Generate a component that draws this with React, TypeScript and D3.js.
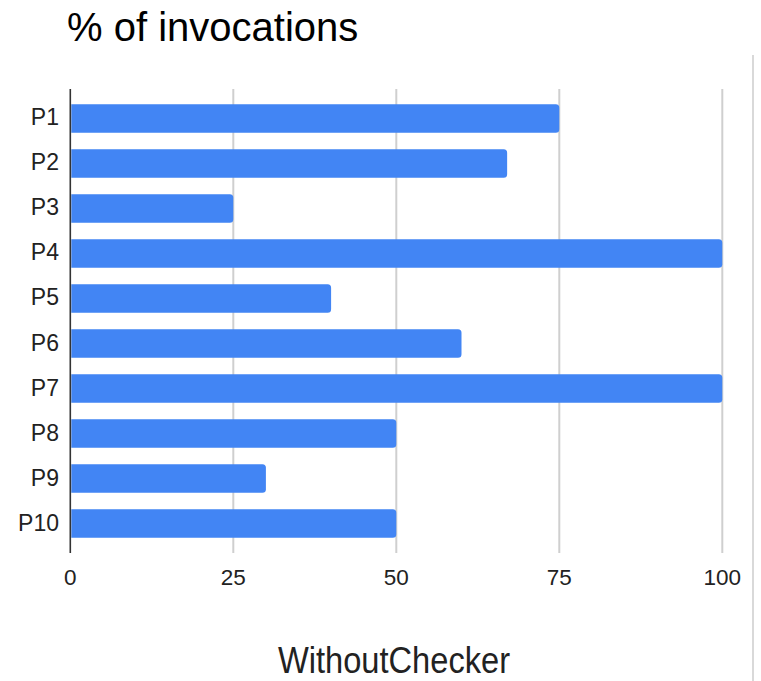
import React from "react";
import * as d3 from "d3";

const categories = ["P1", "P2", "P3", "P4", "P5", "P6", "P7", "P8", "P9", "P10"];
const values = [75, 67, 25, 100, 40, 60, 100, 50, 30, 50];
const xTicks = [0, 25, 50, 75, 100];
const chartTitle = "% of invocations";
const axisTitle = "WithoutChecker";

const W = 761;
const H = 681;
const plot = { left: 70.3, right: 722.3, top: 89, bottom: 553 };
const sans = "'Liberation Sans', Arial, sans-serif";

function barPath(x0: number, x1: number, y: number, h: number, r: number) {
  const rr = Math.min(r, (x1 - x0) / 2, h / 2);
  const p = d3.path();
  p.moveTo(x0, y);
  p.lineTo(x1 - rr, y);
  p.arcTo(x1, y, x1, y + rr, rr);
  p.lineTo(x1, y + h - rr);
  p.arcTo(x1, y + h, x1 - rr, y + h, rr);
  p.lineTo(x0, y + h);
  p.closePath();
  return p.toString();
}

export default function App() {
  const x = d3.scaleLinear().domain([0, 100]).range([plot.left, plot.right]);
  const y = d3
    .scaleBand<string>()
    .domain(categories)
    .range([plot.top, plot.bottom])
    .paddingInner(0.367)
    .paddingOuter(0.338);

  return (
    <svg
      width={W}
      height={H}
      style={{ position: "absolute", left: 0, top: 0, background: "#fff" }}
    >
      <text x={67} y={41} fontFamily={sans} fontSize={40} fill="#000">
        {chartTitle}
      </text>

      {/* right border */}
      <line x1={753} x2={753} y1={55} y2={H} stroke="#cccccc" strokeWidth={1.5} />

      {/* vertical gridlines */}
      {xTicks
        .filter((t) => t !== 0)
        .map((t) => (
          <line
            key={t}
            x1={x(t)}
            x2={x(t)}
            y1={plot.top}
            y2={plot.bottom}
            stroke="#cfcfcf"
            strokeWidth={2}
          />
        ))}

      {/* bars */}
      {categories.map((c, i) => (
        <path
          key={c}
          d={barPath(x(0) + 1, x(values[i]), y(c)!, y.bandwidth(), 3.5)}
          fill="#4285f4"
        />
      ))}

      {/* baseline axis */}
      <line
        x1={x(0)}
        x2={x(0)}
        y1={plot.top}
        y2={plot.bottom}
        stroke="#333"
        strokeWidth={1.6}
      />

      {/* category labels */}
      {categories.map((c) => (
        <text
          key={c}
          x={59}
          y={y(c)! + y.bandwidth() / 2 + 7}
          textAnchor="end"
          fontFamily={sans}
          fontSize={23}
          fill="#222"
        >
          {c}
        </text>
      ))}

      {/* x tick labels */}
      {xTicks.map((t) => (
        <text
          key={t}
          x={x(t)}
          y={584.5}
          textAnchor="middle"
          fontFamily={sans}
          fontSize={22.5}
          fill="#222"
        >
          {t}
        </text>
      ))}

      <text
        x={394}
        y={673}
        textAnchor="middle"
        fontFamily={sans}
        fontSize={36}
        textLength={232}
        lengthAdjust="spacingAndGlyphs"
        fill="#222"
      >
        {axisTitle}
      </text>
    </svg>
  );
}
